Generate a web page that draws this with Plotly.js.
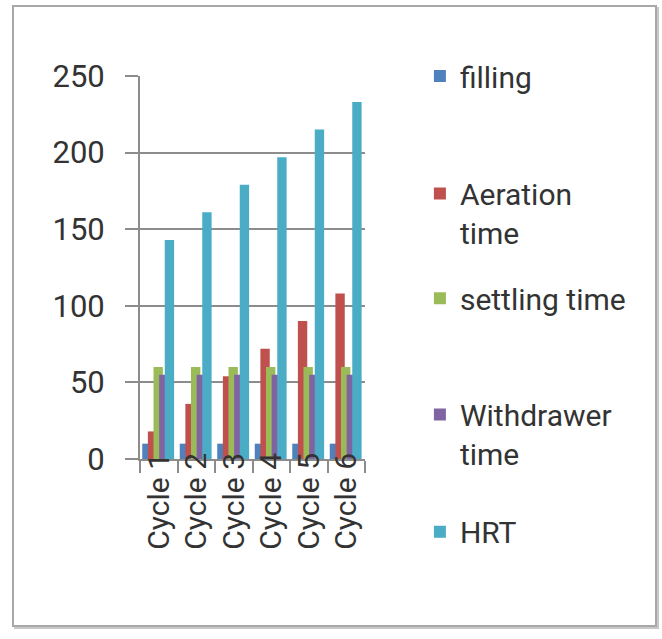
<!DOCTYPE html>
<html>
<head>
<meta charset="utf-8">
<script src="https://cdn.plot.ly/plotly-3.0.1.min.js"></script>
<style>
  html, body { margin: 0; padding: 0; background: #ffffff; }
  #frame { position: absolute; left: 12px; top: 5px; width: 641px; height: 618px;
           border: 2px solid #a8a8a8; box-shadow: 2px 2px 0 #c8c8c8; background: #fff; }
  #chart { position: absolute; left: 0; top: 0; width: 662px; height: 639px; }
</style>
</head>
<body>
<div id="frame"></div>
<div id="chart"></div>
<script>
const categories = ["Cycle 1", "Cycle 2", "Cycle 3", "Cycle 4", "Cycle 5", "Cycle 6"];
const seriesNames = ["filling", "Aeration<br>time", "settling time", "Withdrawer<br>time", "HRT"];
const filling = [10, 10, 10, 10, 10, 10];
const aeration = [18, 36, 54, 72, 90, 108];
const settling = [60, 60, 60, 60, 60, 60];
const withdrawer = [55, 55, 55, 55, 55, 55];
const hrt = [143, 161, 179, 197, 215, 233];
const yTicks = [0, 50, 100, 150, 200, 250];

const colors = ["#4F81BD", "#C0504D", "#9BBB59", "#8064A2", "#4BACC6"];
const values = [filling, aeration, settling, withdrawer, hrt];
const legendIds = ["legend", "legend2", "legend3", "legend4", "legend5"];

// overlapping clustered bars (Excel-style overlap)
const barWidth = 0.25;
const barStep = 0.15;
const groupStart = -0.44;

const traces = values.map((v, i) => ({
  type: "bar",
  x: categories,
  y: v,
  name: seriesNames[i],
  width: barWidth,
  offset: groupStart + i * barStep,
  marker: { color: colors[i], line: { width: 0 } },
  legend: legendIds[i],
  hoverinfo: "skip"
}));

const font = { family: "Roboto, 'Noto Sans', sans-serif", size: 30, color: "#333333" };
const legendY = [1.0, 0.642, 0.42, 0.065, -0.19];
const layout = {
  width: 662, height: 639,
  paper_bgcolor: "rgba(0,0,0,0)",
  plot_bgcolor: "rgba(0,0,0,0)",
  margin: { l: 140, r: 297, t: 76, b: 180 },
  barmode: "overlay",
  font: font,
  showlegend: true,
  xaxis: {
    type: "category",
    tickson: "boundaries",
    ticks: "outside",
    ticklen: 12,
    tickwidth: 2,
    tickcolor: "#8c8c8c",
    showline: true,
    linecolor: "#8c8c8c",
    linewidth: 2,
    tickangle: -90,
    ticklabelstandoff: -20,
    tickfont: font,
    showgrid: false
  },
  yaxis: {
    range: [0, 250],
    tickvals: yTicks,
    ticktext: yTicks.map(String),
    ticks: "outside",
    ticklen: 13,
    tickwidth: 2,
    tickcolor: "#8c8c8c",
    showline: true,
    linecolor: "#8c8c8c",
    linewidth: 2,
    showgrid: true,
    gridcolor: "#8c8c8c",
    gridwidth: 2,
    zeroline: false,
    ticklabelstandoff: 14,
    tickfont: { family: font.family, size: 31, color: "#333333" }
  }
};
legendIds.forEach((id, i) => {
  layout[id] = {
    x: 1.244, xanchor: "left",
    y: legendY[i], yanchor: "middle",
    valign: "top",
    bgcolor: "rgba(0,0,0,0)",
    borderwidth: 0,
    font: font,
    itemwidth: 30
  };
});

Plotly.newPlot("chart", traces, layout, { displayModeBar: false, staticPlot: true });
</script>
</body>
</html>
